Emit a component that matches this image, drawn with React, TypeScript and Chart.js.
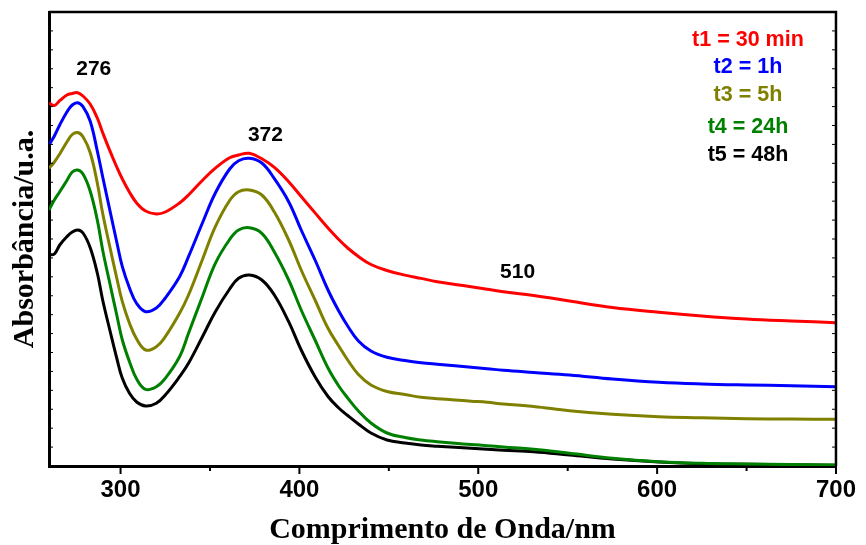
import React, { useEffect, useRef } from "react";
import { Chart, registerables } from "chart.js";

Chart.register(...registerables);

// Wavelength (nm)
const wavelengths = [
  260, 263, 266, 270, 273, 276, 279, 283, 287, 290, 294, 298, 301, 305, 309, 314, 320, 325, 333, 338,
  346, 353, 361, 366, 372, 379, 386, 394, 401, 409, 416, 422, 427, 433, 440, 449, 459, 468, 477, 487,
  496, 505, 514, 531, 551, 575, 601, 625, 650, 675, 700,
];

// Absorbance (arbitrary units)
const t1 = [
  3.63, 3.605, 3.653, 3.71, 3.725, 3.733, 3.7, 3.62, 3.48, 3.334, 3.154, 2.985, 2.87, 2.738, 2.63, 2.55, 2.52, 2.54, 2.63, 2.71,
  2.86, 2.978, 3.082, 3.11, 3.127, 3.072, 2.986, 2.843, 2.695, 2.526, 2.38, 2.265, 2.18, 2.095, 2.015, 1.955, 1.909, 1.876, 1.843, 1.816,
  1.792, 1.767, 1.743, 1.705, 1.65, 1.585, 1.537, 1.5, 1.47, 1.45, 1.433,
];
const t2 = [
  3.21, 3.3, 3.41, 3.54, 3.61, 3.633, 3.593, 3.45, 3.15, 2.893, 2.56, 2.23, 1.993, 1.78, 1.625, 1.543, 1.58, 1.68, 1.893, 2.093,
  2.44, 2.73, 2.97, 3.053, 3.077, 3.03, 2.873, 2.643, 2.36, 2.05, 1.76, 1.55, 1.4, 1.25, 1.15, 1.087, 1.055, 1.033, 1.018, 1.003,
  0.988, 0.973, 0.957, 0.935, 0.91, 0.87, 0.837, 0.82, 0.81, 0.803, 0.793,
];
const t3 = [
  2.977, 3.04, 3.12, 3.24, 3.315, 3.335, 3.293, 3.135, 2.83, 2.527, 2.193, 1.87, 1.643, 1.427, 1.27, 1.16, 1.193, 1.293, 1.527, 1.71,
  2.075, 2.393, 2.655, 2.743, 2.76, 2.71, 2.54, 2.26, 1.96, 1.65, 1.377, 1.2, 1.06, 0.915, 0.81, 0.745, 0.715, 0.687, 0.673, 0.66,
  0.648, 0.637, 0.62, 0.595, 0.553, 0.517, 0.493, 0.483, 0.473, 0.47, 0.467,
];
const t4 = [
  2.56, 2.66, 2.743, 2.855, 2.94, 2.96, 2.92, 2.75, 2.46, 2.16, 1.827, 1.5, 1.26, 1.043, 0.87, 0.767, 0.793, 0.877, 1.093, 1.327,
  1.705, 2.027, 2.265, 2.36, 2.383, 2.327, 2.14, 1.86, 1.56, 1.25, 0.98, 0.8, 0.68, 0.55, 0.43, 0.33, 0.285, 0.26, 0.243, 0.227,
  0.215, 0.203, 0.19, 0.167, 0.127, 0.078, 0.043, 0.027, 0.02, 0.014, 0.01,
];
const t5 = [
  2.11, 2.12, 2.21, 2.293, 2.34, 2.36, 2.33, 2.185, 1.93, 1.66, 1.36, 1.07, 0.877, 0.727, 0.64, 0.6, 0.627, 0.71, 0.893, 1.027,
  1.3, 1.543, 1.77, 1.877, 1.91, 1.86, 1.71, 1.443, 1.16, 0.885, 0.695, 0.58, 0.505, 0.42, 0.33, 0.26, 0.23, 0.21, 0.198, 0.187,
  0.177, 0.167, 0.158, 0.143, 0.11, 0.07, 0.04, 0.023, 0.017, 0.012, 0.008,
];

const seriesNames = ["t1 = 30 min", "t2 = 1h", "t3 = 5h", "t4 = 24h", "t5 = 48h"];
const seriesColors = ["#ff0000", "#0000ff", "#808000", "#008000", "#000000"];
const seriesValues = [t1, t2, t3, t4, t5];

const xTickValues = [300, 350, 400, 450, 500, 550, 600, 650, 700];
const peakLabels = ["276", "372", "510"];
const peakLabelAnchors = [
  [285, 3.965],
  [381, 3.31],
  [522, 1.94],
];

const SANS = '"Liberation Sans", Arial, Helvetica, sans-serif';
const SERIF = '"Liberation Serif", "Times New Roman", Times, serif';

const decorPlugin = {
  id: "decor",
  afterDraw(chart: any) {
    const { ctx, chartArea: a, scales } = chart;
    const xs = scales.x;
    const ys = scales.y;
    ctx.save();
    ctx.strokeStyle = "#000";
    // top and right frame
    ctx.lineWidth = 2.5;
    ctx.beginPath();
    ctx.moveTo(a.left, a.top);
    ctx.lineTo(a.right, a.top);
    ctx.lineTo(a.right, a.bottom);
    ctx.stroke();
    // x ticks
    ctx.lineWidth = 2;
    xTickValues.forEach((v) => {
      const px = xs.getPixelForValue(v);
      const len = v % 100 === 0 ? 8 : 5;
      ctx.beginPath();
      ctx.moveTo(px, a.bottom);
      ctx.lineTo(px, a.bottom + len);
      ctx.stroke();
    });
    // y minor inward ticks (left & right)
    ctx.lineWidth = 1;
    const n = 24;
    for (let i = 1; i < n; i++) {
      const py = a.bottom - (i * (a.bottom - a.top)) / n;
      ctx.beginPath();
      ctx.moveTo(a.left, py);
      ctx.lineTo(a.left + 4, py);
      ctx.moveTo(a.right, py);
      ctx.lineTo(a.right - 4, py);
      ctx.stroke();
    }
    // peak labels
    ctx.font = `bold 21px ${SANS}`;
    ctx.fillStyle = "#000";
    ctx.textAlign = "center";
    ctx.textBaseline = "middle";
    peakLabels.forEach((t, i) => {
      const [xv, yv] = peakLabelAnchors[i];
      ctx.fillText(t, xs.getPixelForValue(xv), ys.getPixelForValue(yv));
    });
    // legend texts
    const legendOffsets = [28, 54.7, 83, 114.7, 143];
    ctx.font = `bold 21.5px ${SANS}`;
    seriesNames.forEach((t, i) => {
      ctx.fillStyle = seriesColors[i];
      ctx.fillText(t, a.right - 88, a.top + legendOffsets[i]);
    });
    ctx.restore();
  },
};

export default function App() {
  const ref = useRef<HTMLCanvasElement>(null);
  useEffect(() => {
    if (!ref.current) return;
    const chart = new Chart(ref.current, {
      type: "line",
      data: {
        datasets: seriesValues.map((vals, i) => ({
          label: seriesNames[i],
          data: wavelengths.map((w, j) => ({ x: w, y: vals[j] })),
          borderColor: seriesColors[i],
          backgroundColor: seriesColors[i],
          borderWidth: 3,
          pointRadius: 0,
          tension: 0.4,
          fill: false,
        })),
      },
      options: {
        responsive: false,
        animation: false,
        events: [],
        layout: { padding: { top: 12, right: 23.5, left: 0, bottom: 0 } },
        plugins: { legend: { display: false }, tooltip: { enabled: false } },
        scales: {
          x: {
            type: "linear",
            min: 260,
            max: 700,
            afterBuildTicks: (s: any) => {
              s.ticks = xTickValues.map((v) => ({ value: v }));
            },
            afterFit: (s: any) => {
              s.height = 79;
            },
            ticks: {
              autoSkip: false,
              maxRotation: 0,
              padding: 10,
              color: "#000",
              font: { family: SANS, size: 24, weight: "bold" },
              callback: (v: any) => (Number(v) % 100 === 0 ? String(v) : ""),
            },
            grid: { display: false, drawTicks: false },
            border: { display: true, color: "#000", width: 3 },
            title: {
              display: true,
              text: "Comprimento de Onda/nm",
              color: "#000",
              font: { family: SERIF, size: 30, weight: "bold", lineHeight: 1 },
              padding: { top: 0, bottom: 0 },
            },
          },
          y: {
            min: 0,
            max: 4.54,
            afterFit: (s: any) => {
              s.width = 49;
            },
            ticks: { display: false },
            grid: { display: false, drawTicks: false },
            border: { display: true, color: "#000", width: 3 },
            title: {
              display: true,
              text: "Absorbância/u.a.",
              color: "#000",
              font: { family: SERIF, size: 30, weight: "bold", lineHeight: 1 },
              padding: { top: 10, bottom: 0 },
            },
          },
        },
      },
      plugins: [decorPlugin],
    });
    return () => chart.destroy();
  }, []);
  return (
    <div style={{ position: "absolute", left: 0, top: 0, width: 866, height: 545, background: "#fff" }}>
      <canvas ref={ref} width={866} height={545} />
    </div>
  );
}
